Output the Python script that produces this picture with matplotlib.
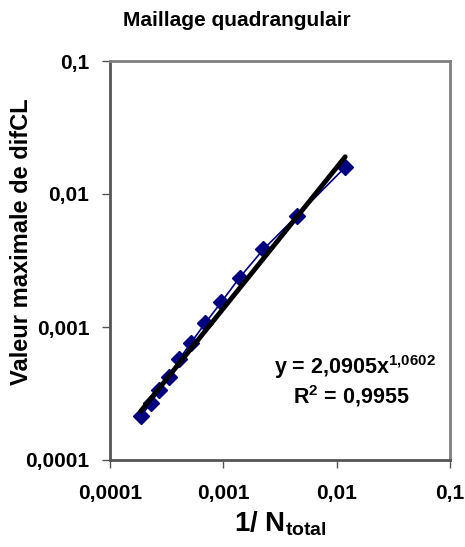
import matplotlib.pyplot as plt
import numpy as np
from matplotlib.ticker import FixedLocator, FixedFormatter

plt.rcParams['font.family'] = ['Liberation Sans', 'DejaVu Sans']
plt.rcParams['font.weight'] = 'bold'
plt.rcParams['axes.labelweight'] = 'bold'
plt.rcParams['mathtext.fontset'] = 'custom'
plt.rcParams['mathtext.rm'] = 'Liberation Sans:bold'
plt.rcParams['mathtext.it'] = 'Liberation Sans:bold'
plt.rcParams['mathtext.bf'] = 'Liberation Sans:bold'

# 1/N_total et valeur maximale de difCL
inv_n = [1.87e-4, 2.29e-4, 2.71e-4, 3.33e-4, 4.08e-4, 5.18e-4,
         6.93e-4, 9.55e-4, 1.39e-3, 2.26e-3, 4.45e-3, 1.19e-2]
max_difcl = [2.14e-4, 2.67e-4, 3.36e-4, 4.23e-4, 5.71e-4, 7.62e-4,
             1.07e-3, 1.53e-3, 2.35e-3, 3.84e-3, 6.84e-3, 1.59e-2]

# courbe de tendance puissance
fit_a = 2.0905
fit_b = 1.0602
fit_r2 = 0.9955

ticks = [1e-4, 1e-3, 1e-2, 1e-1]
tick_labels = ['0,0001', '0,001', '0,01', '0,1']

fig = plt.figure(figsize=(4.65, 5.47), dpi=100)
ax = fig.add_axes([110 / 465, 1 - 460 / 547, 340 / 465, 399 / 547])

ax.plot(inv_n, max_difcl, color='#000080', lw=1.2, marker='D',
        markersize=8.5, markerfacecolor='#000080', markeredgecolor='#000080')

xt = np.array([min(inv_n), max(inv_n)])
ax.plot(xt, fit_a * xt ** fit_b, color='black', lw=3.5, solid_capstyle='round')

ax.set_xscale('log')
ax.set_yscale('log')
ax.set_xlim(1e-4, 1e-1)
ax.set_ylim(1e-4, 1e-1)
for axis in (ax.xaxis, ax.yaxis):
    axis.set_major_locator(FixedLocator(ticks))
    axis.set_major_formatter(FixedFormatter(tick_labels))
    axis.set_minor_locator(FixedLocator([]))
ax.tick_params(direction='out', length=6, width=1, color='#555555',
               labelsize=15)
ax.tick_params(axis='y', pad=9)
ax.tick_params(axis='x', pad=11)

for s in ax.spines.values():
    s.set_color('#808080')
    s.set_linewidth(2)
ax.spines['left'].set_color('#555555')
ax.spines['bottom'].set_color('#555555')

ax.set_xlabel('1/ N$_{\\rm total}$', fontsize=20, fontweight='bold', labelpad=5)
ax.set_ylabel('Valeur maximale de difCL', fontsize=17, fontweight='bold')
ax.yaxis.set_label_coords(-0.226, 0.546)
fig.text(237 / 465, 1 - 21 / 547, 'Maillage quadrangulair', ha='center',
         va='center', fontsize=15, fontweight='bold')

ax.text(0.72, 0.233, 'y = 2,0905x$^{1{,}0602}$', transform=ax.transAxes,
        ha='center', va='center', fontsize=15.5)
ax.text(0.71, 0.16, 'R$^2$ = 0,9955', transform=ax.transAxes,
        ha='center', va='center', fontsize=15.5)

fig.savefig('out.png', dpi=100)
